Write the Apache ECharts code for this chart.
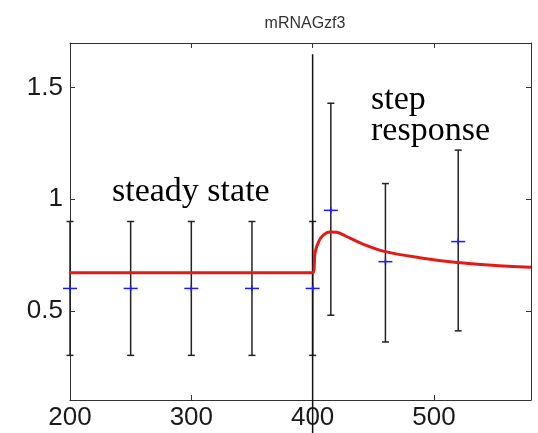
<!DOCTYPE html>
<html>
<head>
<meta charset="utf-8">
<script src="https://cdn.jsdelivr.net/npm/echarts@6/dist/echarts.min.js"></script>
<style>
  html, body { margin: 0; padding: 0; background: #fff; }
  #main { width: 538px; height: 433px; }
</style>
</head>
<body>
<div id="main"></div>
<script>
// model curve (red)
var curveX = [200, 400, 402, 405, 409, 414, 420, 427, 441, 459, 488, 519, 548, 580];
var curveY = [0.67, 0.67, 0.76, 0.81, 0.84, 0.853, 0.852, 0.835, 0.8, 0.766, 0.738, 0.716, 0.704, 0.695];

// measurements with error bars
var measX = [200, 250, 300, 350, 400, 415, 460, 520];
var measMean = [0.6, 0.6, 0.6, 0.6, 0.6, 0.95, 0.72, 0.81];
var measLow = [0.3, 0.3, 0.3, 0.3, 0.3, 0.48, 0.36, 0.41];
var measHigh = [0.9, 0.9, 0.9, 0.9, 0.9, 1.43, 1.07, 1.22];

// step marker
var stepX = [400, 400];
var stepY = [1.65, -0.05];

var xTicks = [200, 300, 400, 500];
var yTicks = [0.5, 1, 1.5];

var chart = echarts.init(document.getElementById('main'));

var curveData = [];
for (var i = 0; i < curveX.length; i++) curveData.push([curveX[i], curveY[i]]);
var barData = [];
for (var j = 0; j < measX.length; j++) barData.push([measX[j], measLow[j], measHigh[j], measMean[j]]);
var stepData = [[stepX[0], stepY[0]], [stepX[1], stepY[1]]];

var axisCol = '#333';

function barItem(params, api) {
    var x = api.value(0);
    var lo = api.coord([x, api.value(1)]);
    var hi = api.coord([x, api.value(2)]);
    var st = { stroke: '#222', lineWidth: 1.5 };
    return {
        type: 'group',
        children: [
            { type: 'line', shape: { x1: lo[0], y1: lo[1], x2: hi[0], y2: hi[1] }, style: st },
            { type: 'line', shape: { x1: lo[0] - 3.5, y1: lo[1], x2: lo[0] + 3.5, y2: lo[1] }, style: st },
            { type: 'line', shape: { x1: hi[0] - 3.5, y1: hi[1], x2: hi[0] + 3.5, y2: hi[1] }, style: st }
        ]
    };
}

function meanItem(params, api) {
    var p = api.coord([api.value(0), api.value(3)]);
    var st = { stroke: '#1a1aff', lineWidth: 1.5 };
    return {
        type: 'group',
        children: [
            { type: 'line', shape: { x1: p[0] - 7, y1: p[1], x2: p[0] + 7, y2: p[1] }, style: st },
            { type: 'line', shape: { x1: p[0], y1: p[1] - 3, x2: p[0], y2: p[1] + 3 }, style: st }
        ]
    };
}

var baseX = {
    type: 'value', min: 200, max: 580,
    axisLine: { show: true, lineStyle: { color: axisCol, width: 1 } },
    axisTick: { show: true, inside: true, length: 5, customValues: xTicks, lineStyle: { color: axisCol } },
    splitLine: { show: false }
};
var baseY = {
    type: 'value', min: 0.1, max: 1.7,
    axisLine: { show: true, lineStyle: { color: axisCol, width: 1 } },
    axisTick: { show: true, inside: true, length: 5, customValues: yTicks, lineStyle: { color: axisCol } },
    splitLine: { show: false }
};

var option = {
    animation: false,
    backgroundColor: '#fff',
    title: {
        text: 'mRNAGzf3', left: 300, top: 11, textAlign: 'center',
        textStyle: { fontFamily: 'Liberation Sans', fontSize: 16, fontWeight: 'normal', color: '#333' }
    },
    grid: { left: 70, right: 7, top: 43, bottom: 33 },
    xAxis: [
        Object.assign({}, baseX, {
            position: 'bottom',
            axisLabel: { customValues: xTicks, margin: 5, fontFamily: 'Liberation Sans', fontSize: 26, color: '#1a1a1a' }
        }),
        Object.assign({}, baseX, { position: 'top', axisLabel: { show: false } })
    ],
    yAxis: [
        Object.assign({}, baseY, {
            position: 'left',
            axisLabel: {
                customValues: yTicks, margin: 7, fontFamily: 'Liberation Sans', fontSize: 26, color: '#1a1a1a',
                formatter: function (v) { return String(v); }
            }
        }),
        Object.assign({}, baseY, { position: 'right', axisLabel: { show: false } })
    ],
    graphic: [
        { type: 'text', left: 112, top: 175, style: { text: 'steady state', fontFamily: 'Liberation Serif', fontSize: 34, fill: '#000' } },
        { type: 'text', left: 371, top: 83, style: { text: 'step', fontFamily: 'Liberation Serif', fontSize: 34, fill: '#000' } },
        { type: 'text', left: 371, top: 114, style: { text: 'response', fontFamily: 'Liberation Serif', fontSize: 34, fill: '#000' } }
    ],
    series: [
        {
            type: 'custom', renderItem: barItem, data: barData, z: 2,
            encode: { x: 0, y: [1, 2] }
        },
        {
            type: 'line', data: stepData, clip: false, symbol: 'none', z: 3,
            lineStyle: { color: '#111', width: 1.5 }
        },
        {
            type: 'line', data: curveData, symbol: 'none', smooth: 0.3, z: 4,
            lineStyle: { color: '#e61919', width: 3 }
        },
        {
            type: 'custom', renderItem: meanItem, data: barData, z: 5,
            encode: { x: 0, y: 3 }
        }
    ]
};
chart.setOption(option);
</script>
</body>
</html>
